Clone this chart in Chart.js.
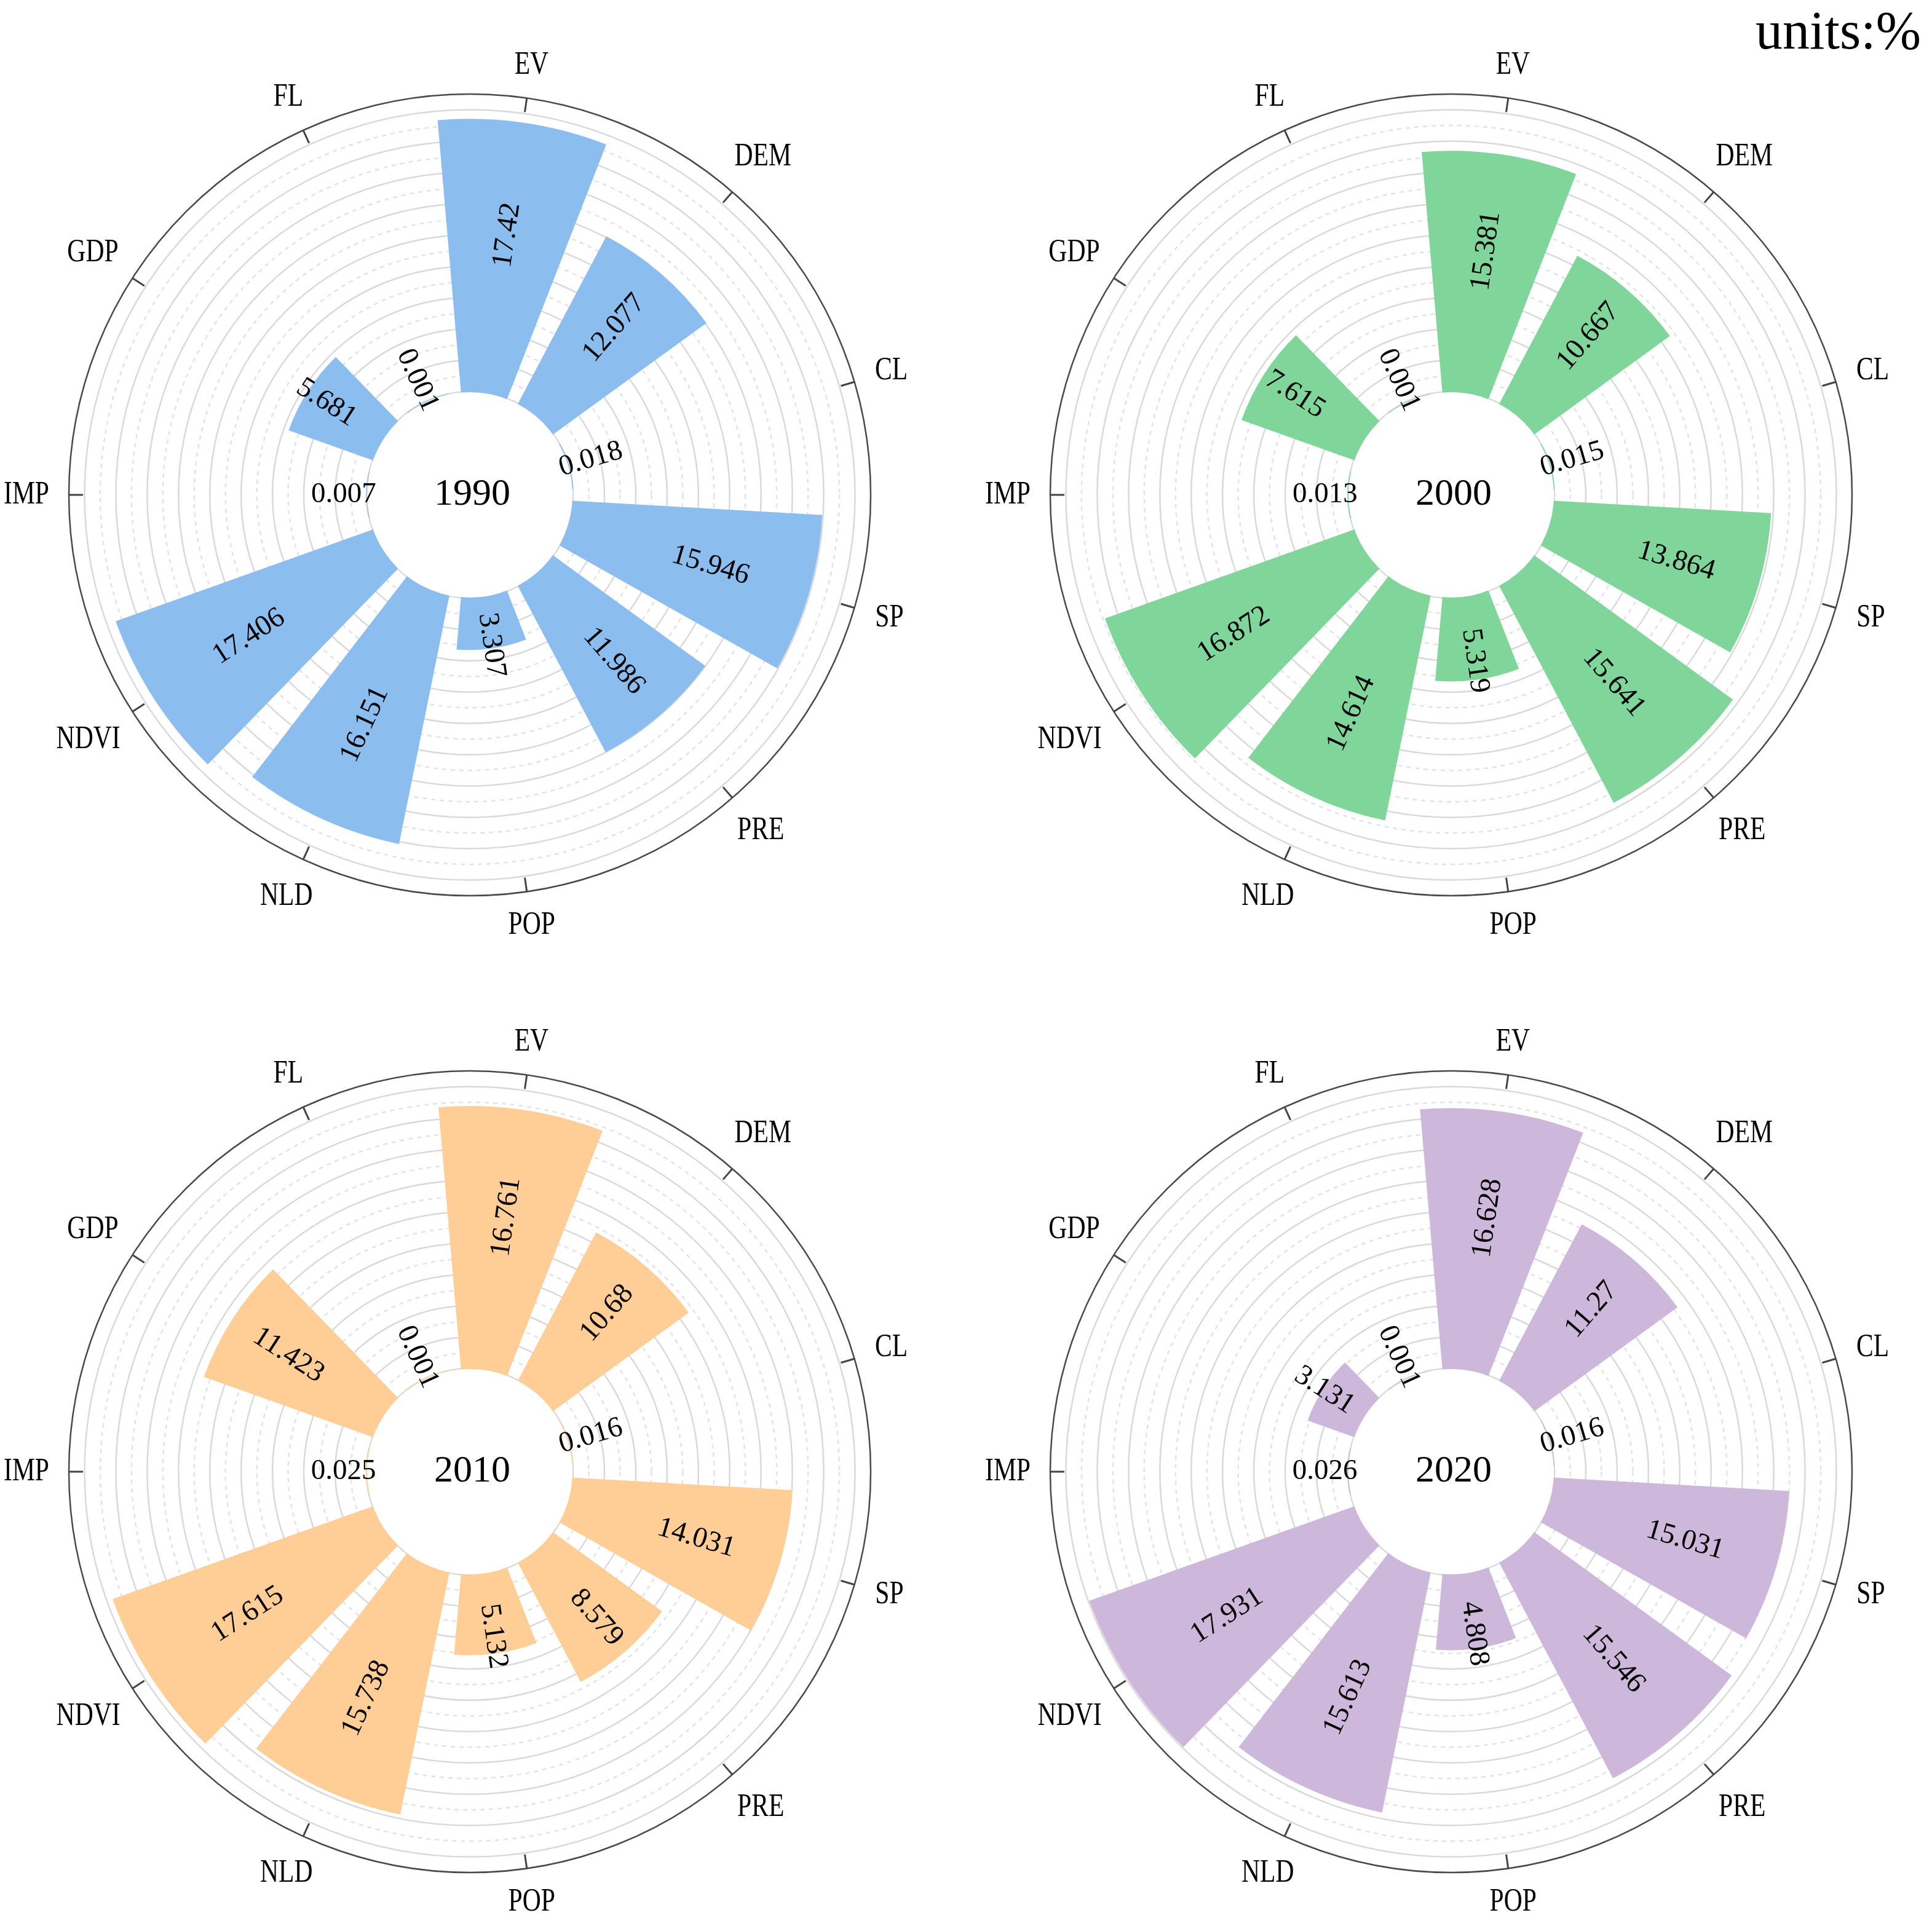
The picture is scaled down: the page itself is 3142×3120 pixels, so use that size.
<!DOCTYPE html>
<html>
<head>
<meta charset="utf-8">
<script src="https://cdn.jsdelivr.net/npm/chart.js@4.4.1/dist/chart.umd.min.js"></script>
<style>
  html, body { margin: 0; padding: 0; background: #fff; }
  #page { position: relative; width: 3142px; height: 3120px; overflow: hidden; background: #fff; }
  .box { position: absolute; width: 1560px; height: 1560px; }
  #units { position: absolute; right: 18px; top: 6px; font: 88px "Liberation Serif", "Times New Roman", serif; line-height: 1; color: #000; }
</style>
</head>
<body>
<div id="page">
  <div class="box" style="left:-16px;top:25px"><canvas id="c0"></canvas></div>
  <div class="box" style="left:1580px;top:25px"><canvas id="c1"></canvas></div>
  <div class="box" style="left:-16px;top:1614px"><canvas id="c2"></canvas></div>
  <div class="box" style="left:1580px;top:1614px"><canvas id="c3"></canvas></div>
  <div id="units">units:%</div>
</div>
<script>
const categories = ['EV', 'DEM', 'CL', 'SP', 'PRE', 'POP', 'NLD', 'NDVI', 'IMP', 'GDP', 'FL'];
const years = ['1990', '2000', '2010', '2020'];
const values1990 = [17.42, 12.077, 0.018, 15.946, 11.986, 3.307, 16.151, 17.406, 0.007, 5.681, 0.001];
const values2000 = [15.381, 10.667, 0.015, 13.864, 15.641, 5.319, 14.614, 16.872, 0.013, 7.615, 0.001];
const values2010 = [16.761, 10.68, 0.016, 14.031, 8.579, 5.132, 15.738, 17.615, 0.025, 11.423, 0.001];
const values2020 = [16.628, 11.27, 0.016, 15.031, 15.546, 4.808, 15.613, 17.931, 0.026, 3.131, 0.001];
const colors = ['#8cbdef', '#80d69a', '#ffcd96', '#cdb7da'];
const rMin = -6.6, rMax = 19;

const pitch = 360 / categories.length;

// each bar is preceded by an empty slot so the bars get angular gaps
function withGaps(vals) {
  const out = [];
  vals.forEach(v => out.push(0, v));
  return out;
}

const roseDecor = {
  id: 'roseDecor',
  afterDatasetsDraw(chart, args, opts) {
    const ctx = chart.ctx;
    const r = chart.scales.r;
    const cx = r.xCenter, cy = r.yCenter;
    const R = r.drawingArea;
    const r0 = r.getDistanceFromCenterForValue(0);
    const half = Math.PI / categories.length;
    ctx.save();

    // hole in the middle
    ctx.fillStyle = '#fff';
    ctx.beginPath();
    ctx.arc(cx, cy, r0 - 1, 0, Math.PI * 2);
    ctx.fill();

    ctx.fillStyle = '#000';
    ctx.textAlign = 'center';
    ctx.textBaseline = 'middle';
    ctx.font = '62px "Liberation Serif", "Times New Roman", serif';
    ctx.fillText(opts.year, cx + 4, cy);

    // value labels along the bars
    const meta = chart.getDatasetMeta(0);
    ctx.font = '47px "Liberation Serif", "Times New Roman", serif';
    opts.values.forEach((v, i) => {
      const arc = meta.data[2 * i + 1];
      const mid = (arc.startAngle + arc.endAngle) / 2;
      const d = r.getDistanceFromCenterForValue(v / 2 + 1.45);
      let fromTop = (mid + Math.PI / 2) % (Math.PI * 2);
      if (fromTop < 0) fromTop += Math.PI * 2;
      const rot = fromTop < Math.PI ? mid : mid + Math.PI;
      ctx.save();
      ctx.translate(cx + Math.cos(mid) * d, cy + Math.sin(mid) * d);
      ctx.rotate(rot);
      ctx.fillText(String(v), 0, 0);
      ctx.restore();
    });

    // ticks on the outer ring and category names
    ctx.strokeStyle = '#444';
    ctx.lineWidth = 3;
    ctx.font = '52px "Liberation Serif", "Times New Roman", serif';
    categories.forEach((lab, i) => {
      const p = r.getPointPosition(i, R, half);
      const q = r.getPointPosition(i, R - 23, half);
      ctx.beginPath();
      ctx.moveTo(p.x, p.y);
      ctx.lineTo(q.x, q.y);
      ctx.stroke();
      const hw = ctx.measureText(lab).width * 0.8 / 2, hh = 18;
      const off = Math.abs(Math.cos(p.angle)) * hw + Math.abs(Math.sin(p.angle)) * hh;
      const t = r.getPointPosition(i, R + 32 + off, half);
      ctx.save();
      ctx.translate(t.x, t.y);
      ctx.scale(0.8, 1);
      ctx.fillText(lab, 0, 0);
      ctx.restore();
    });
    ctx.restore();
  }
};

function makeChart(id, year, vals, color) {
  new Chart(document.getElementById(id), {
    type: 'polarArea',
    data: {
      labels: categories,
      datasets: [{
        data: withGaps(vals),
        angle: c => c.dataIndex % 2 ? pitch * 0.8 : (c.dataIndex === 0 ? pitch * 0.1 : pitch * 0.2),
        backgroundColor: c => c.dataIndex % 2 ? color : 'rgba(0,0,0,0)',
        borderWidth: 0
      }]
    },
    options: {
      responsive: true,
      maintainAspectRatio: false,
      animation: false,
      layout: { padding: 128 },
      plugins: {
        legend: { display: false },
        tooltip: { enabled: false },
        roseDecor: { year: year, values: vals }
      },
      scales: {
        r: {
          min: rMin,
          max: rMax,
          startAngle: -pitch / 4,
          angleLines: { display: false },
          pointLabels: { display: false },
          ticks: { display: false, stepSize: 1 },
          grid: {
            circular: true,
            color: c => {
              const v = c.tick ? c.tick.value : 0;
              if (v < 0) return 'rgba(0,0,0,0)';
              if (v === rMax) return '#4a4a4a';
              return v % 2 === 0 ? '#d9d9d9' : '#e3e3e3';
            },
            lineWidth: c => (c.tick && c.tick.value === rMax) ? 2.5 : 2.5
          },
          border: {
            dash: c => (c.tick && c.tick.value >= 0 && c.tick.value % 2 === 1 && c.tick.value !== rMax) ? [7, 7] : []
          }
        }
      }
    },
    plugins: [roseDecor]
  });
}

makeChart('c0', years[0], values1990, colors[0]);
makeChart('c1', years[1], values2000, colors[1]);
makeChart('c2', years[2], values2010, colors[2]);
makeChart('c3', years[3], values2020, colors[3]);
</script>
</body>
</html>
